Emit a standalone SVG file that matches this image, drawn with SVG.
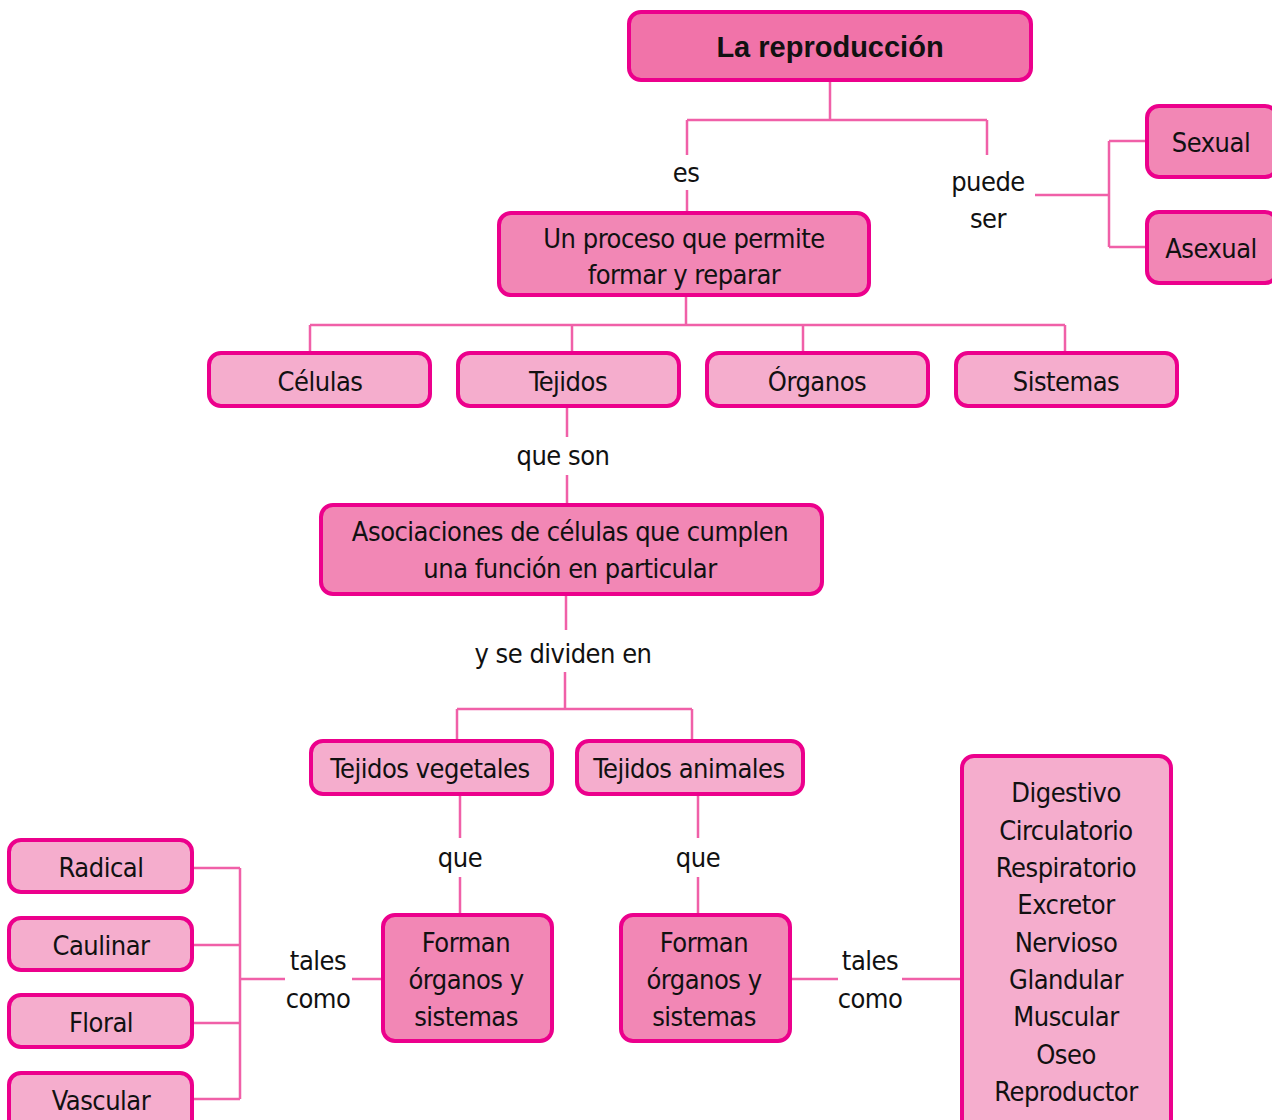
<svg xmlns="http://www.w3.org/2000/svg" width="1272" height="1120" viewBox="0 0 1272 1120">
<style>
.box{stroke:#ec008c;stroke-width:4}
.top{fill:#f173a9}
.mid{fill:#f287b5}
.lt{fill:#f5adcd}
.ln{fill:none;stroke:#f060a8;stroke-width:2.5}
text{font-family:"Liberation Sans Narrow","DejaVu Sans Condensed","Liberation Sans",sans-serif;font-size:27px;letter-spacing:-0.5px;fill:#111;text-anchor:middle;dominant-baseline:central}
.b{font-family:"Liberation Sans",Arial,sans-serif;font-weight:bold;font-size:29px;letter-spacing:0}
</style>
<rect width="1272" height="1120" fill="#fff"/>
<g id="connectors">
<path class="ln" d="M830,80V120M687,120H987M687,120V155M687,190V213M987,120V155"/>
<path class="ln" d="M1035,195H1109M1109,141V247M1109,141H1147M1109,247H1147"/>
<path class="ln" d="M686,295V325M310,325H1065M310,325V353M572,325V358M803,325V353M1065,325V353"/>
<path class="ln" d="M567,406V437M567,475V505"/>
<path class="ln" d="M566,594V630M565,672V709M457,709H692M457,709V741M692,709V741"/>
<path class="ln" d="M460,794V838M460,877V915M698,794V838M698,877V915"/>
<path class="ln" d="M383,979H352M285,979H240M240,868V1099M192,868H240M192,945H240M192,1023H240M192,1099H240"/>
<path class="ln" d="M790,979H838M902,979H962"/>
</g>
<g id="labels">
<text x="686" y="172">es</text>
<text x="988" y="181">puede</text>
<text x="988" y="218">ser</text>
<text x="563" y="455">que son</text>
<text x="563" y="653">y se dividen en</text>
<text x="460" y="857">que</text>
<text x="698" y="857">que</text>
<text x="318" y="960">tales</text>
<text x="318" y="998">como</text>
<text x="870" y="960">tales</text>
<text x="870" y="998">como</text>
</g>
<g id="n-reproduccion"><rect class="box top" x="629" y="12" width="402" height="68" rx="12"/><text class="b" x="830" y="47">La reproducción</text></g>
<g id="n-sexual"><rect class="box mid" x="1147" y="106" width="130" height="71" rx="12"/><text x="1211" y="142">Sexual</text></g>
<g id="n-asexual"><rect class="box mid" x="1147" y="212" width="130" height="71" rx="12"/><text x="1211" y="248">Asexual</text></g>
<g id="n-proceso"><rect class="box mid" x="499" y="213" width="370" height="82" rx="12"/><text x="684" y="238">Un proceso que permite</text><text x="684" y="274">formar y reparar</text></g>
<g id="n-celulas"><rect class="box lt" x="209" y="353" width="221" height="53" rx="12"/><text x="320" y="381">Células</text></g>
<g id="n-tejidos"><rect class="box lt" x="458" y="353" width="221" height="53" rx="12"/><text x="568" y="381">Tejidos</text></g>
<g id="n-organos"><rect class="box lt" x="707" y="353" width="221" height="53" rx="12"/><text x="817" y="381">Órganos</text></g>
<g id="n-sistemas"><rect class="box lt" x="956" y="353" width="221" height="53" rx="12"/><text x="1066" y="381">Sistemas</text></g>
<g id="n-asociaciones"><rect class="box mid" x="321" y="505" width="501" height="89" rx="12"/><text x="570" y="531">Asociaciones de células que cumplen</text><text x="570" y="568">una función en particular</text></g>
<g id="n-vegetales"><rect class="box lt" x="311" y="741" width="241" height="53" rx="12"/><text x="430" y="768">Tejidos vegetales</text></g>
<g id="n-animales"><rect class="box lt" x="577" y="741" width="226" height="53" rx="12"/><text x="689" y="768">Tejidos animales</text></g>
<g id="n-forman1"><rect class="box mid" x="383" y="915" width="169" height="126" rx="12"/><text x="466" y="942">Forman</text><text x="466" y="979">órganos y</text><text x="466" y="1016">sistemas</text></g>
<g id="n-forman2"><rect class="box mid" x="621" y="915" width="169" height="126" rx="12"/><text x="704" y="942">Forman</text><text x="704" y="979">órganos y</text><text x="704" y="1016">sistemas</text></g>
<g id="n-radical"><rect class="box lt" x="9" y="840" width="183" height="52" rx="12"/><text x="101" y="867">Radical</text></g>
<g id="n-caulinar"><rect class="box lt" x="9" y="918" width="183" height="52" rx="12"/><text x="101" y="945">Caulinar</text></g>
<g id="n-floral"><rect class="box lt" x="9" y="995" width="183" height="52" rx="12"/><text x="101" y="1022">Floral</text></g>
<g id="n-vascular"><rect class="box lt" x="9" y="1073" width="183" height="60" rx="12"/><text x="101" y="1100">Vascular</text></g>
<g id="n-sistemas-animales"><rect class="box lt" x="962" y="756" width="209" height="380" rx="12"/>
<text x="1066" y="792">Digestivo</text><text x="1066" y="830">Circulatorio</text><text x="1066" y="867">Respiratorio</text><text x="1066" y="904">Excretor</text><text x="1066" y="942">Nervioso</text><text x="1066" y="979">Glandular</text><text x="1066" y="1016">Muscular</text><text x="1066" y="1054">Oseo</text><text x="1066" y="1091">Reproductor</text></g>
</svg>
